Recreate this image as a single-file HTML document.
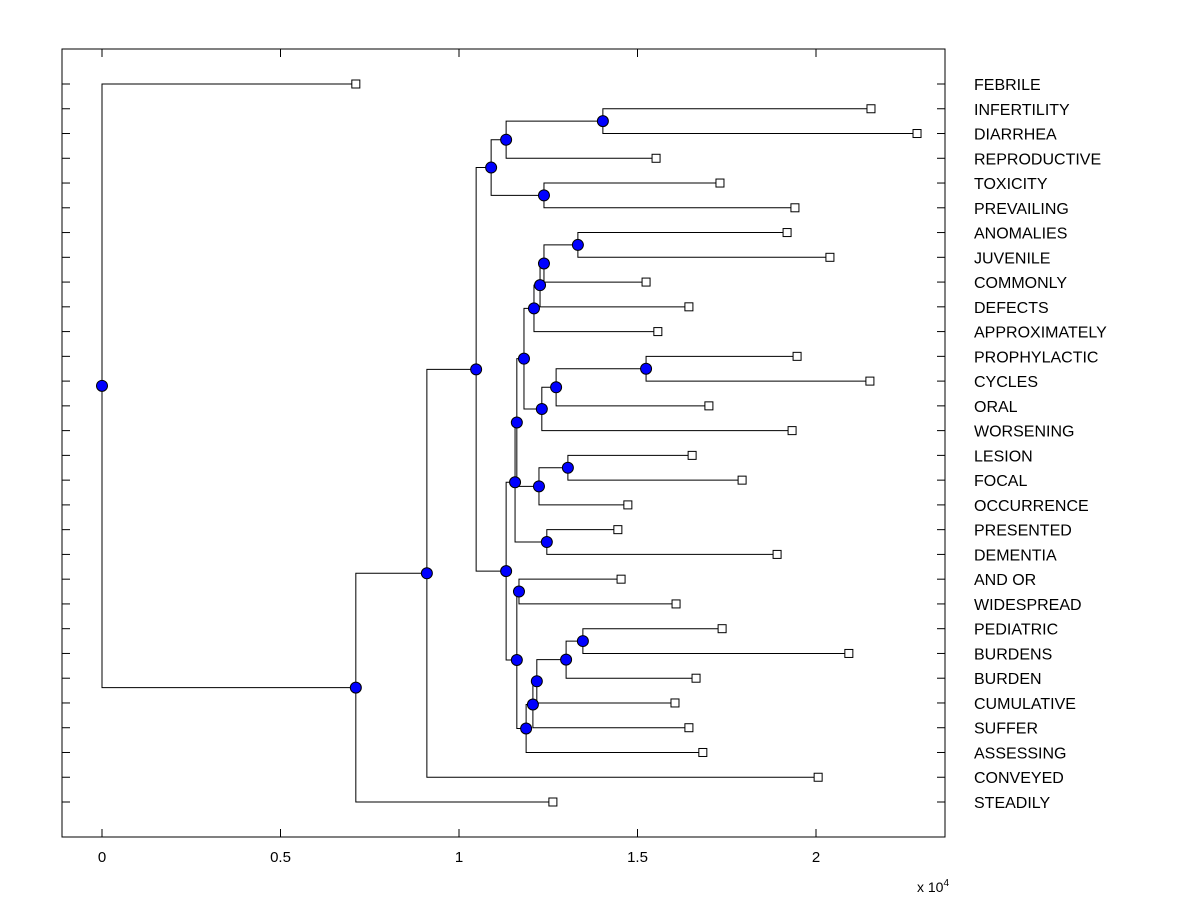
<!DOCTYPE html>
<html><head><meta charset="utf-8"><style>
html,body{margin:0;padding:0;background:#fff;}
svg{display:block;font-family:"Liberation Sans",Arial,sans-serif;}
</style></head><body>
<svg id="chart" width="1200" height="900"></svg>
<script>
const leafLabels=["FEBRILE","INFERTILITY","DIARRHEA","REPRODUCTIVE","TOXICITY","PREVAILING","ANOMALIES","JUVENILE","COMMONLY","DEFECTS","APPROXIMATELY","PROPHYLACTIC","CYCLES","ORAL","WORSENING","LESION","FOCAL","OCCURRENCE","PRESENTED","DEMENTIA","AND OR","WIDESPREAD","PEDIATRIC","BURDENS","BURDEN","CUMULATIVE","SUFFER","ASSESSING","CONVEYED","STEADILY"];
const leafValues=[0.711,2.154,2.283,1.552,1.731,1.941,1.919,2.039,1.524,1.644,1.557,1.947,2.151,1.700,1.933,1.653,1.793,1.473,1.445,1.891,1.454,1.608,1.737,2.092,1.664,1.605,1.644,1.683,2.006,1.263];
const mergeNames=["m_indi","D1","D2","D","n578","n544","n540","n534","n646","n556","n542","E1a","n568","L","E1","P","X","n519","n583","n566","n537","n533","n526","E2","E","C","B","A","root"];
const mergeChildA=["INFERTILITY","m_indi","TOXICITY","D1","ANOMALIES","n578","n544","n540","PROPHYLACTIC","n646","n556","n534","LESION","n568","E1a","PRESENTED","E1","AND OR","PEDIATRIC","n583","n566","n537","n533","n519","X","D","C","B","FEBRILE"];
const mergeChildB=["DIARRHEA","REPRODUCTIVE","PREVAILING","D2","JUVENILE","COMMONLY","DEFECTS","APPROXIMATELY","CYCLES","ORAL","WORSENING","n542","FOCAL","OCCURRENCE","L","DEMENTIA","P","WIDESPREAD","BURDENS","BURDEN","CUMULATIVE","SUFFER","ASSESSING","n526","E2","E","CONVEYED","STEADILY","A"];
const mergeValues=[1.403,1.132,1.238,1.090,1.333,1.238,1.227,1.210,1.524,1.272,1.232,1.182,1.305,1.224,1.162,1.246,1.157,1.168,1.347,1.300,1.218,1.207,1.188,1.162,1.132,1.048,0.910,0.711,0.0];
const xTicks=[0,0.5,1,1.5,2];
const xTickLabels=["0","0.5","1","1.5","2"];

const NS="http://www.w3.org/2000/svg";
const svg=document.getElementById('chart');
const L=62,R=945,T=49,B=837;
const xs=v=>102+357*v;
const ys=i=>84+i*(802-84)/29;
function el(tag,attrs,parent){const e=document.createElementNS(NS,tag);for(const k in attrs)e.setAttribute(k,attrs[k]);(parent||svg).appendChild(e);return e;}

const frame=el('rect',{x:L,y:T,width:R-L,height:B-T,fill:'#fff',stroke:'#000','stroke-width':1});



const pos={};
leafLabels.forEach((n,i)=>{pos[n]={x:xs(leafValues[i]),y:ys(i)};});
mergeNames.forEach((n,i)=>{const a=pos[mergeChildA[i]],b=pos[mergeChildB[i]];pos[n]={x:xs(mergeValues[i]),y:(a.y+b.y)/2};});

const gLinks=el('g',{});


mergeNames.forEach((n,i)=>{
  const p=pos[n],a=pos[mergeChildA[i]],b=pos[mergeChildB[i]];
  const pl=el('polyline',{points:`${a.x},${a.y} ${p.x},${a.y} ${p.x},${b.y} ${b.x},${b.y}`,fill:'none',stroke:'#000','stroke-width':1},gLinks);
  
  
});

const gT=el('g',{});


leafLabels.forEach((n,i)=>{
  const y=ys(i);
  el('line',{x1:L,y1:y,x2:L+8,y2:y,stroke:'#000'},gT);
  el('line',{x1:R-8,y1:y,x2:R,y2:y,stroke:'#000'},gT);
});
xTicks.forEach((v,i)=>{
  const x=xs(v);
  el('line',{x1:x,y1:B,x2:x,y2:B-8,stroke:'#000'},gT);
  el('line',{x1:x,y1:T,x2:x,y2:T+8,stroke:'#000'},gT);
  const t=el('text',{x:x,y:862,'text-anchor':'middle','font-size':15});
  t.textContent=xTickLabels[i];
  
  
});
const ex=el('text',{x:917,y:892,'font-size':14});
ex.innerHTML='x 10<tspan dy="-6" font-size="10">4</tspan>';



leafLabels.forEach((n,i)=>{
  const p=pos[n];
  const s=el('rect',{x:p.x-4,y:p.y-4,width:8,height:8,fill:'#fff',stroke:'#000'});
  
  
  const t=el('text',{x:974,y:p.y+6,'font-size':16});
  t.textContent=n;
  
  
});
mergeNames.forEach(n=>{
  const p=pos[n];
  const c=el('circle',{cx:p.x,cy:p.y,r:5.5,fill:'#0000ff',stroke:'#000','stroke-width':1});
  
  
});
</script>
</body></html>
